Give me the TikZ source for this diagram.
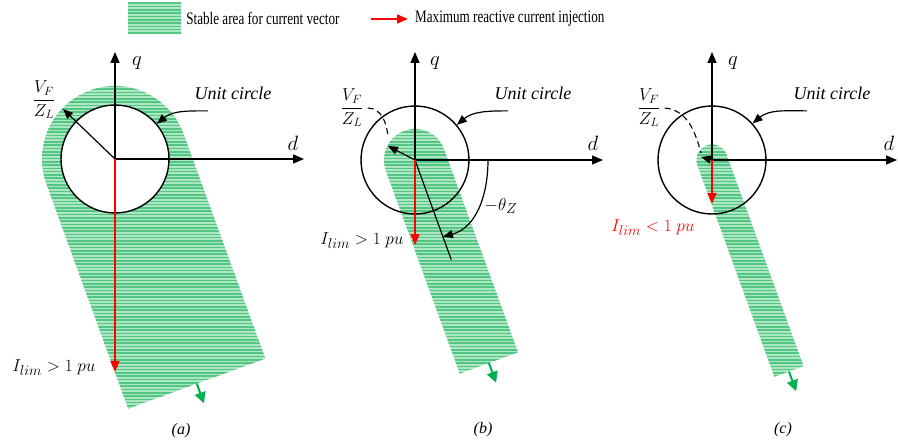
\documentclass[tikz,border=0pt]{standalone}
\usepackage{amsmath}
\usepackage{graphicx}
\usepackage{fontspec}
\setmainfont{Liberation Serif}
\usepackage{tikz}
\usetikzlibrary{arrows.meta,positioning,calc}
\definecolor{bandlight}{RGB}{172,230,194}
\definecolor{banddark}{RGB}{84,198,132}
\definecolor{growgreen}{RGB}{0,176,80}
\newcommand{\hstripes}{%
  \fill[bandlight] (0,0) rectangle (898,-444);
  \foreach \k in {0,...,135} \draw[banddark, line width=1.6pt] (0,-3.3*\k) -- (898,-3.3*\k);}
\newcommand{\stableband}[3]{%
  \begin{scope}
    \clip ($(#1)+(20:#2)$) -- ++(-70:#3) -- ++(200:2*#2) -- ++(110:#3)
      arc[start angle=200, end angle=20, radius=#2] -- cycle;
    \hstripes
  \end{scope}
  \coordinate (#1end) at ($(#1)+(-70:#3)$);}
\newcommand{\legtext}[1]{\scalebox{0.75}[1]{#1}}

\begin{document}
\begin{tikzpicture}[x=1pt, y=1pt, every node/.style={font=\fontsize{19}{22}\selectfont},
  axisarr/.style={-{Triangle[length=11pt,width=9pt]}, line width=1.3pt},
  vec/.style={-{Triangle[length=10pt,width=8pt]}, line width=1.2pt},
  ivec/.style={-{Triangle[length=11pt,width=9pt]}, line width=1.6pt, red},
  unitcirc/.style={draw, circle, line width=1.4pt, minimum size=108pt, inner sep=0pt},
  growarr/.style={-{Triangle[length=11pt,width=11pt]}, line width=2pt, growgreen},
  ddash/.style={dashed, dash pattern=on 6pt off 4pt, line width=1.1pt},
  axlab/.style={font=\fontsize{21}{24}\selectfont},
  frac/.style={font=\fontsize{18}{22}\selectfont},
  txt/.style={font=\fontsize{18}{20}\selectfont\itshape},
  captxt/.style={font=\fontsize{16}{18}\selectfont\itshape},
  legtxt/.style={font=\fontsize{17.5}{20}\selectfont, inner sep=0pt}]
\useasboundingbox (0,0) rectangle (898,-444);

\begin{scope}
  \clip (128,-3) rectangle (181,-34);
  \hstripes
\end{scope}
\node[minimum width=53pt, minimum height=31pt, inner sep=0pt] (lg) at (154.5,-18.5) {};
\node[legtxt, right=5pt of lg] (lgs) {\legtext{Stable area for current vector}};
\node[legtxt, anchor=west] (lgm) at (415,-19) {\legtext{Maximum reactive current injection}};
\draw[ivec] ([xshift=-44pt]lgm.west) -- ([xshift=-7pt]lgm.west);

\coordinate (oa) at (115,-159);
\coordinate (qa) at (115,-52);
\coordinate (da) at (304,-159);
\coordinate (va) at (63,-109);
\coordinate (ia) at (115,-372);
\stableband{oa}{73}{239}
\node[unitcirc, fill=white] (ca) at (oa) {};
\draw[axisarr] (oa) -- (qa);
\draw[axisarr] (oa) -- (da);
\node[axlab] (qla) at (137,-63) {$q$};
\node[axlab] (dla) at (293,-143) {$d$};
\draw[vec] (oa) -- (va);
\node[frac] (vfa) at (44,-100) {$\dfrac{V_F}{Z_L}$};
\draw[ivec] (oa) -- (ia);
\node (ila) at (54,-368) {$I_{lim}>1\ pu$};
\node[txt] (ula) at (233,-93) {Unit circle};
\draw[vec] ([xshift=-25pt,yshift=-8pt]ula.south) to[out=180,in=40] (ca.40);
\draw[growarr] (oaend) -- ++(-70:21);
\node[captxt] (capa) at (181,-431) {(a)};

\coordinate (ob) at (415,-160);
\coordinate (qb) at (415,-52);
\coordinate (db) at (603,-160);
\coordinate (vb) at (388,-146);
\coordinate (ib) at (415,-245);
\coordinate (tb) at (488,-160);
\stableband{ob}{31}{216}
\node[unitcirc] (cb) at (ob) {};
\coordinate (zb) at ($(ob)+(-70:106)$);
\draw[axisarr] (ob) -- (qb);
\draw[axisarr] (ob) -- (db);
\node[axlab] (qlb) at (435,-63) {$q$};
\node[axlab] (dlb) at (593,-143) {$d$};
\draw[line width=1.2pt] (ob) -- (zb);
\draw[vec] (tb) to[out=-90,in=15] ($(ob)!0.77!(zb)$);
\node (thb) at (501,-206) {$-\theta_Z$};
\draw[vec] (ob) -- (vb);
\node[frac] (vfb) at (352,-108) {$\dfrac{V_F}{Z_L}$};
\draw[ddash] ([xshift=1pt]vfb.east) to[out=0,in=95] ([yshift=9pt]vb);
\draw[ivec] (ob) -- (ib);
\node (ilb) at (362,-241) {$I_{lim}>1\ pu$};
\node[txt] (ulb) at (533,-93) {Unit circle};
\draw[vec] ([xshift=-25pt,yshift=-8pt]ulb.south) to[out=180,in=40] (cb.40);
\draw[growarr] (obend) -- ++(-70:21);
\node[captxt] (capb) at (483,-430) {(b)};

\coordinate (oc) at (712,-160);
\coordinate (qc) at (712,-52);
\coordinate (dc) at (897,-160);
\coordinate (vc) at (701,-157);
\coordinate (ic) at (712,-204);
\stableband{oc}{15.5}{225}
\node[unitcirc] (cc) at (oc) {};
\draw[axisarr] (oc) -- (qc);
\draw[axisarr] (oc) -- (dc);
\node[axlab] (qlc) at (733,-63) {$q$};
\node[axlab] (dlc) at (889,-143) {$d$};
\draw[vec] (oc) -- (vc);
\node[frac] (vfc) at (649,-108) {$\dfrac{V_F}{Z_L}$};
\draw[ddash] ([xshift=1pt]vfc.east) to[out=-5,in=105] ([yshift=4pt]vc);
\draw[ivec] (oc) -- (ic);
\node[red] (ilc) at (653,-228) {$I_{lim}<1\ pu$};
\node[txt] (ulc) at (832,-93) {Unit circle};
\draw[vec] ([xshift=-25pt,yshift=-8pt]ulc.south) to[out=180,in=40] (cc.42);
\draw[growarr] (ocend) -- ++(-70:21);
\node[captxt] (capc) at (783,-430) {(c)};
\end{tikzpicture}
\end{document}
